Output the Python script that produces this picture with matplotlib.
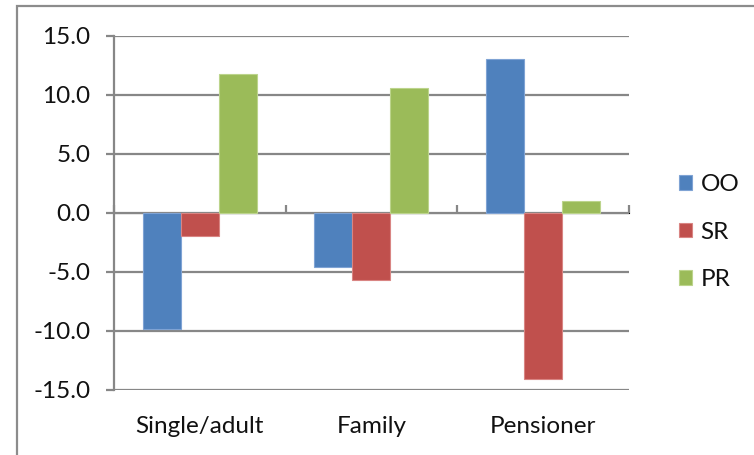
import matplotlib.pyplot as plt
import numpy as np
from matplotlib.patches import Rectangle

categories = ['Single/adult', 'Family', 'Pensioner']
series_names = ['OO', 'SR', 'PR']
oo = [-9.8, -4.6, 13.0]
sr = [-2.0, -5.7, -14.1]
pr = [11.8, 10.6, 1.0]
y_ticks = [-15.0, -10.0, -5.0, 0.0, 5.0, 10.0, 15.0]

colors = ['#4F81BD', '#C0504D', '#9BBB59']
edges = ['#7FA3D4', '#D98583', '#BCD48C']
grid_col = '#878787'
text_col = '#111111'

plt.rcParams['font.family'] = ['Lato', 'DejaVu Sans']

fig = plt.figure(figsize=(7.54, 4.55), dpi=100)
ax = fig.add_axes([0.1512, 0.1429, 0.6826, 0.7786])

x = np.arange(len(categories))
w = 0.222
for i, (name, vals) in enumerate(zip(series_names, [oo, sr, pr])):
    ax.bar(x + (i - 1) * w, vals, w, color=colors[i], edgecolor=edges[i],
           linewidth=0.8, label=name, zorder=3)

ax.set_xlim(-0.5, len(categories) - 0.5)
ax.set_ylim(y_ticks[0], y_ticks[-1])
ax.set_yticks(y_ticks, labels=[f'{v:.1f}' for v in y_ticks])
ax.set_xticks(x, labels=categories)

ax.grid(axis='y', color=grid_col, linewidth=1.6, zorder=1)
for s in ['top', 'right', 'bottom']:
    ax.spines[s].set_visible(False)
ax.spines['left'].set_color(grid_col)
ax.spines['left'].set_linewidth(1.6)
ax.tick_params(axis='y', length=6, width=1.6, color=grid_col, pad=11,
               labelsize=17.5, labelcolor=text_col)
ax.tick_params(axis='x', length=0, pad=19, labelsize=17.5, labelcolor=text_col)

# category axis sits on the zero line, with ticks between groups
zero_pos = (0 - y_ticks[0]) / (y_ticks[-1] - y_ticks[0])
sec = ax.secondary_xaxis(zero_pos)
sec.set_xticks(np.arange(len(categories) + 1) - 0.5, labels=[])
sec.spines['bottom'].set_color(grid_col)
sec.spines['bottom'].set_linewidth(1.6)
sec.tick_params(direction='out', length=6, width=1.6, color=grid_col)

fig.legend(loc='center left', bbox_to_anchor=(0.884, 0.49), frameon=False,
           fontsize=17.5, handlelength=0.55, handleheight=0.55, handletextpad=0.35,
           labelspacing=1.1, borderpad=0, labelcolor=text_col)

fig.patches.append(Rectangle((0.0225, -0.1), 1.2, 1.087, transform=fig.transFigure,
                             fill=False, edgecolor='#8C8C8C', linewidth=1.6))

fig.savefig('out.png', dpi=100)
